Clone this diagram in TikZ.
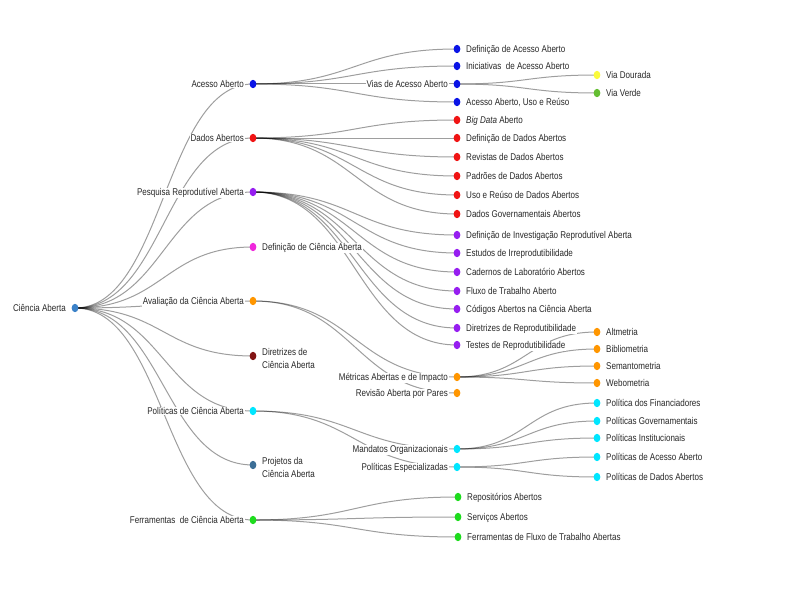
\documentclass[tikz,border=0pt]{standalone}
\usepackage{fontspec}
\setmainfont{Liberation Sans}[FakeStretch=0.82]
\usetikzlibrary{calc,shapes.geometric}
\pgfdeclarelayer{background}
\pgfsetlayers{background,main}
\definecolor{txt}{RGB}{40,40,40}
\definecolor{crootc}{RGB}{60,130,200}
\definecolor{cblue}{RGB}{10,20,230}
\definecolor{cred}{RGB}{240,20,20}
\definecolor{cpurple}{RGB}{150,30,240}
\definecolor{cmagenta}{RGB}{240,40,220}
\definecolor{corange}{RGB}{255,150,0}
\definecolor{cdarkred}{RGB}{130,20,20}
\definecolor{ccyan}{RGB}{0,230,255}
\definecolor{csteel}{RGB}{60,110,150}
\definecolor{cgreen}{RGB}{30,220,30}
\definecolor{cyellow}{RGB}{250,250,60}
\definecolor{cviaverde}{RGB}{100,190,50}
\tikzset{
  x=1pt, y=-1pt,
  dot/.style={ellipse, minimum width=6.8pt, minimum height=8.4pt, inner sep=0pt, draw=none},
  lbl/.style={font=\fontsize{9.8}{13}\selectfont, text=txt, fill=white, inner xsep=1pt, inner ysep=0.6pt},
  lnk/.style={draw=black, draw opacity=0.38, line width=1pt},
}
\newcommand\leafnode[5]{%
  \node[dot,fill=#4] (#1) at (#2,#3) {};
  \node[lbl,anchor=base west] (#1-l) at ([xshift=8pt,yshift=-3.4pt]#1.center) {#5};}
\newcommand\innernode[5]{%
  \node[dot,fill=#4] (#1) at (#2,#3) {};
  \node[lbl,anchor=base east] (#1-l) at ([xshift=-8pt,yshift=-3.4pt]#1.center) {#5};}
\newcommand\twoline[5]{%
  \node[dot,fill=#4] (#1) at (#2,#3) {};
  \node[lbl,anchor=west,align=left] (#1-l) at ([xshift=8pt,yshift=-2.5pt]#1.center) {#5};}
\newcommand\treelink[2]{%
  \draw[lnk] let \p1=(#1.center), \p2=(#2.center) in
    (\p1) .. controls ({(\x1+\x2)/2},\y1) and ({(\x1+\x2)/2},\y2) .. (\p2);}
\begin{document}
\begin{tikzpicture}
\useasboundingbox (0,0) rectangle (806,594);
% root
\innernode{r}{75}{308}{crootc}{Ciência Aberta}
% level 1
\innernode{a1}{253}{84}{cblue}{Acesso Aberto}
\innernode{a2}{253}{138}{cred}{Dados Abertos}
\innernode{a3}{253}{192}{cpurple}{Pesquisa Reprodutível Aberta}
\leafnode{a4}{253}{247}{cmagenta}{Definição de Ciência Aberta}
\innernode{a5}{253}{301}{corange}{Avaliação da Ciência Aberta}
\twoline{a6}{253}{356}{cdarkred}{Diretrizes de\\Ciência Aberta}
\innernode{a7}{253}{411}{ccyan}{Políticas de Ciência Aberta}
\twoline{a8}{253}{465}{csteel}{Projetos da\\Ciência Aberta}
\innernode{a9}{253}{520}{cgreen}{Ferramentas\ \ de Ciência Aberta}
% level 2
\leafnode{b1}{457}{49}{cblue}{Definição de Acesso Aberto}
\leafnode{b2}{457}{66}{cblue}{Iniciativas\ \ de Acesso Aberto}
\innernode{b3}{457}{84}{cblue}{Vias de Acesso Aberto}
\leafnode{b4}{457}{102}{cblue}{Acesso Aberto, Uso e Reúso}
\leafnode{c1}{457}{120}{cred}{\textit{Big Data} Aberto}
\leafnode{c2}{457}{138}{cred}{Definição de Dados Abertos}
\leafnode{c3}{457}{157}{cred}{Revistas de Dados Abertos}
\leafnode{c4}{457}{176}{cred}{Padrões de Dados Abertos}
\leafnode{c5}{457}{195}{cred}{Uso e Reúso de Dados Abertos}
\leafnode{c6}{457}{214}{cred}{Dados Governamentais Abertos}
\leafnode{d1}{457}{235}{cpurple}{Definição de Investigação Reprodutível Aberta}
\leafnode{d2}{457}{253}{cpurple}{Estudos de Irreprodutibilidade}
\leafnode{d3}{457}{272}{cpurple}{Cadernos de Laboratório Abertos}
\leafnode{d4}{457}{291}{cpurple}{Fluxo de Trabalho Aberto}
\leafnode{d5}{457}{309}{cpurple}{Códigos Abertos na Ciência Aberta}
\leafnode{d6}{457}{328}{cpurple}{Diretrizes de Reprodutibilidade}
\leafnode{d7}{457}{345}{cpurple}{Testes de Reprodutibilidade}
\innernode{e1}{457}{377}{corange}{Métricas Abertas e de Impacto}
\innernode{e2}{457}{393}{corange}{Revisão Aberta por Pares}
\innernode{f1}{457}{449}{ccyan}{Mandatos Organizacionais}
\innernode{f2}{457}{467}{ccyan}{Políticas Especializadas}
\leafnode{g1}{458}{497}{cgreen}{Repositórios Abertos}
\leafnode{g2}{458}{517}{cgreen}{Serviços Abertos}
\leafnode{g3}{458}{537}{cgreen}{Ferramentas de Fluxo de Trabalho Abertas}
% level 3
\leafnode{h1}{597}{75}{cyellow}{Via Dourada}
\leafnode{h2}{597}{93}{cviaverde}{Via Verde}
\leafnode{i1}{597}{332}{corange}{Altmetria}
\leafnode{i2}{597}{349}{corange}{Bibliometria}
\leafnode{i3}{597}{366}{corange}{Semantometria}
\leafnode{i4}{597}{383}{corange}{Webometria}
\leafnode{j1}{597}{403}{ccyan}{Política dos Financiadores}
\leafnode{j2}{597}{421}{ccyan}{Políticas Governamentais}
\leafnode{j3}{597}{438}{ccyan}{Políticas Institucionais}
\leafnode{k1}{597}{457}{ccyan}{Políticas de Acesso Aberto}
\leafnode{k2}{597}{477}{ccyan}{Políticas de Dados Abertos}
% links
\begin{pgfonlayer}{background}
\foreach \c in {a1,a2,a3,a4,a5,a6,a7,a8,a9}{\treelink{r}{\c}}
\foreach \c in {b1,b2,b3,b4}{\treelink{a1}{\c}}
\foreach \c in {h1,h2}{\treelink{b3}{\c}}
\foreach \c in {c1,c2,c3,c4,c5,c6}{\treelink{a2}{\c}}
\foreach \c in {d1,d2,d3,d4,d5,d6,d7}{\treelink{a3}{\c}}
\foreach \c in {e1,e2}{\treelink{a5}{\c}}
\foreach \c in {i1,i2,i3,i4}{\treelink{e1}{\c}}
\foreach \c in {f1,f2}{\treelink{a7}{\c}}
\foreach \c in {j1,j2,j3}{\treelink{f1}{\c}}
\foreach \c in {k1,k2}{\treelink{f2}{\c}}
\foreach \c in {g1,g2,g3}{\treelink{a9}{\c}}
\end{pgfonlayer}
\end{tikzpicture}
\end{document}
